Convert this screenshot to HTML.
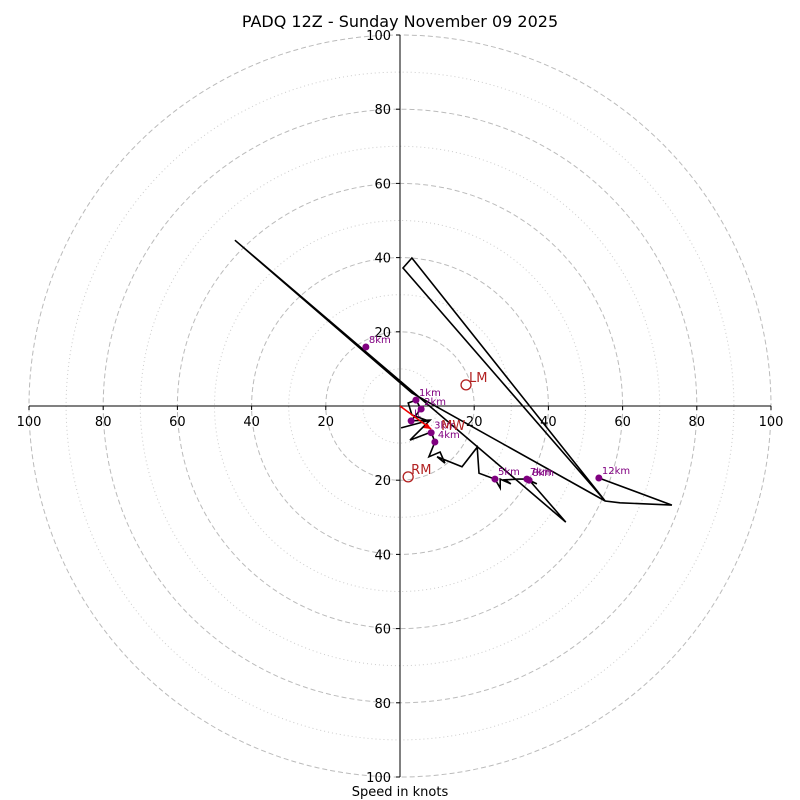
<!DOCTYPE html>
<html><head><meta charset="utf-8"><style>
html,body{margin:0;padding:0;background:#fff}
svg{display:block;font-family:"DejaVu Sans","Liberation Sans",sans-serif}
</style></head><body>
<svg id="c" width="800" height="800" viewBox="0 0 800 800">
<text x="400" y="27" text-anchor="middle" font-size="16">PADQ 12Z - Sunday November 09 2025</text>
<text x="400" y="796" text-anchor="middle" font-size="13">Speed in knots</text>
</svg>
<script>
const ringSpeeds=[10,20,30,40,50,60,70,80,90,100];
const tickLabels=[20,40,60,80,100];
const hodoU=[0.3,7.5,3.2,2.2,4.3,5.7,3.0,8.1,2.7,8.4,9.4,7.8,10.8,12.1,10.0,16.7,20.8,21.3,25.6,27.0,27.0,29.9,28.3,31.8,34.2,36.9,35.0,44.7,-44.5,3.2,55.3,0.8,3.2,55.3,59.3,73.3,53.6];
const hodoV=[-5.9,-4.0,-2.4,0.8,1.6,-0.8,-4.0,-3.8,-9.2,-7.0,-9.7,-13.7,-12.4,-15.4,-13.7,-16.4,-11.1,-18.1,-19.7,-22.1,-19.7,-21.0,-19.9,-19.7,-19.7,-21.0,-20.2,-31.3,44.7,3.5,-25.6,37.2,39.9,-25.6,-26.1,-26.7,-19.4];
const markLabels=["1km","2km","lt","3km","4km","5km","7km","8km","8km","12km"];
const markU=[4.3,5.7,3.0,8.4,9.4,25.6,34.2,34.8,-9.2,53.6];
const markV=[1.6,-0.8,-4.0,-7.2,-9.7,-19.7,-19.7,-20.0,15.9,-19.4];
const smNames=["LM","RM"];
const smU=[17.8,2.2];
const smV=[5.7,-19.1];
const mwU=[8.4];
const mwV=[-6.2];

const NS="http://www.w3.org/2000/svg";
const svg=document.getElementById('c');
const cx=400,cy=406,R=371,maxS=100;
const sx=u=>cx+u*R/maxS, sy=v=>cy-v*R/maxS;
function mk(tag,attrs,parent){const e=document.createElementNS(NS,tag);for(const k in attrs)e.setAttribute(k,attrs[k]);(parent||svg).appendChild(e);return e;}

ringSpeeds.forEach(s=>{
  const major=s%20===0;
  const c=mk('circle',{cx:cx,cy:cy,r:s*R/maxS,fill:'none',stroke:major?'#bbb':'#ccc','stroke-width':1,'stroke-dasharray':major?'5,3':'1,3'});
  
  
});
const ax=mk('line',{x1:sx(-100),y1:cy,x2:sx(100),y2:cy,stroke:'#000','stroke-width':1});


const ay=mk('line',{x1:cx,y1:sy(100),x2:cx,y2:sy(-100),stroke:'#000','stroke-width':1});


tickLabels.forEach(t=>{
  [1,-1].forEach(sg=>{
    const x=sx(sg*t);
    mk('line',{x1:x,y1:cy,x2:x,y2:cy+4,stroke:'#000'});
    const tx=mk('text',{x:x,y:cy+20,'text-anchor':'middle','font-size':13});
    tx.textContent=t;
    
    
    const y=sy(sg*t);
    mk('line',{x1:cx-4,y1:y,x2:cx,y2:y,stroke:'#000'});
    const ty=mk('text',{x:cx-9,y:y+5,'text-anchor':'end','font-size':13});
    ty.textContent=t;
    
    
  });
});
const pts=hodoU.map((u,i)=>sx(u).toFixed(1)+','+sy(hodoV[i]).toFixed(1)).join(' ');
const pl=mk('polyline',{points:pts,fill:'none',stroke:'#000','stroke-width':1.6,'stroke-linejoin':'miter'});


markLabels.forEach((l,i)=>{
  const d=mk('circle',{cx:sx(markU[i]),cy:sy(markV[i]),r:3.5,fill:'#800080'});
  
  
  const t=mk('text',{x:sx(markU[i])+3,y:sy(markV[i])-4,'font-size':10,fill:'#800080'});
  t.textContent=l;
  
  
});
const mx=sx(mwU[0]),my=sy(mwV[0]);
const ar=mk('line',{x1:cx,y1:cy,x2:mx,y2:my,stroke:'#e00','stroke-width':1.6});


mk('polygon',{points:`${mx},${my} ${mx-8},${my-1} ${mx-4},${my-6}`,fill:'#e00'});
const mwt=mk('text',{x:mx+10,y:my+1,'font-size':13,fill:'#b22222'});
mwt.textContent='MW';


smNames.forEach((n,i)=>{
  const c=mk('circle',{cx:sx(smU[i]),cy:sy(smV[i]),r:5,fill:'none',stroke:'#b22222','stroke-width':1.3});
  
  
  const t=mk('text',{x:sx(smU[i])+3,y:sy(smV[i])-3,'font-size':13,fill:'#b22222'});
  t.textContent=n;
  
  
});
</script>
</body></html>
